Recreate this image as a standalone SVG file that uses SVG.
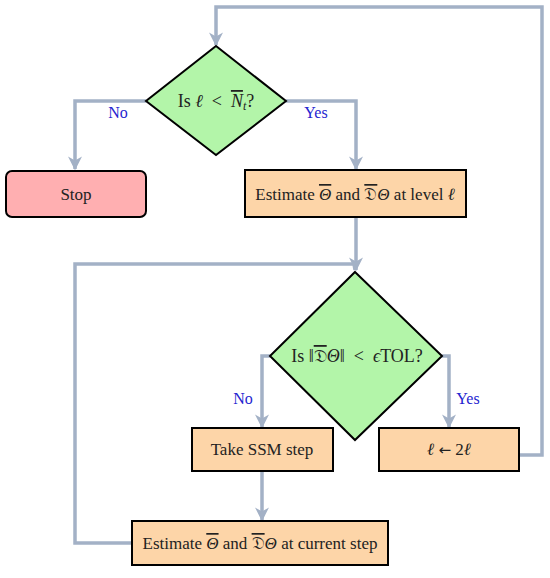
<svg xmlns="http://www.w3.org/2000/svg" width="550" height="578" viewBox="0 0 550 578">
<style>
text{font-family:"Liberation Serif","DejaVu Serif",serif;font-size:17px;fill:#222;text-anchor:middle}
.q{font-size:18px}
.m{font-style:italic}
.o{text-decoration:overline}
.ar{font-family:"DejaVu Sans",sans-serif;font-size:15px}
.lbl{fill:#2424d0;font-size:16px}
.dia{fill:#b3f5a9;stroke:#000;stroke-width:2}
.box{fill:#fdd5a8;stroke:#000;stroke-width:2}
.stop{fill:#ffafb1;stroke:#000;stroke-width:2}
.c{fill:none;stroke:#a3b1c6;stroke-width:3.5}
</style>
<defs>
<marker id="a" viewBox="0 0 10 10" refX="9" refY="5" markerWidth="4" markerHeight="4" orient="auto" markerUnits="strokeWidth">
<path d="M0,0 L10,5 L0,10 L3,5 Z" fill="#a3b1c6"/>
</marker>
</defs>
<g id="connectors">
<polyline class="c" points="146,101 75,101 75,169" marker-end="url(#a)"/>
<polyline class="c" points="286,101 356,101 356,169" marker-end="url(#a)"/>
<polyline class="c" points="356,217 356,270" marker-end="url(#a)"/>
<polyline class="c" points="270,356 262,356 262,427" marker-end="url(#a)"/>
<polyline class="c" points="442,356 449,356 449,427" marker-end="url(#a)"/>
<polyline class="c" points="262,471 262,520" marker-end="url(#a)"/>
<polyline class="c" points="132,543 75,543 75,264 354,264 355,270"/>
<polyline class="c" points="519,455 542,455 542,7 216,7 216,45" marker-end="url(#a)"/>
<text class="lbl" x="118" y="118">No</text>
<text class="lbl" x="316" y="118">Yes</text>
<text class="lbl" x="243" y="404">No</text>
<text class="lbl" x="468" y="404">Yes</text>
</g>
<g id="d1">
<polygon class="dia" points="216,46 286,101 216,155 146,101"/>
<text class="q" x="216" y="107" xml:space="preserve">Is <tspan class="m">ℓ</tspan>  &lt;  <tspan class="m o">N</tspan><tspan class="m" font-size="12" dy="3">t</tspan><tspan dy="-3">?</tspan></text>
</g>
<g id="stop">
<rect class="stop" x="6" y="171" width="140" height="46" rx="6"/>
<text x="76" y="200">Stop</text>
</g>
<g id="est1">
<rect class="box" x="245" y="170" width="221" height="47"/>
<text x="355" y="200">Estimate <tspan class="m o">Θ</tspan> and <tspan class="o">𝔇</tspan><tspan class="m">Θ</tspan> at level <tspan class="m">ℓ</tspan></text>
</g>
<g id="d2">
<polygon class="dia" points="355,272 442,356 355,440 270,356"/>
<text class="q" x="357" y="362" xml:space="preserve">Is ‖<tspan class="o">𝔇</tspan><tspan class="m">Θ</tspan>‖  &lt;  <tspan class="m">ϵ</tspan>TOL?</text>
</g>
<g id="ssm">
<rect class="box" x="192" y="428" width="141" height="43"/>
<text x="262" y="455">Take SSM step</text>
</g>
<g id="dbl">
<rect class="box" x="379" y="428" width="140" height="43"/>
<text x="449" y="455" xml:space="preserve"><tspan class="m">ℓ</tspan> <tspan class="ar">←</tspan> 2<tspan class="m">ℓ</tspan></text>
</g>
<g id="est2">
<rect class="box" x="132" y="521" width="256" height="44"/>
<text x="260" y="549">Estimate <tspan class="m o">Θ</tspan> and <tspan class="o">𝔇</tspan><tspan class="m">Θ</tspan> at current step</text>
</g>
</svg>
